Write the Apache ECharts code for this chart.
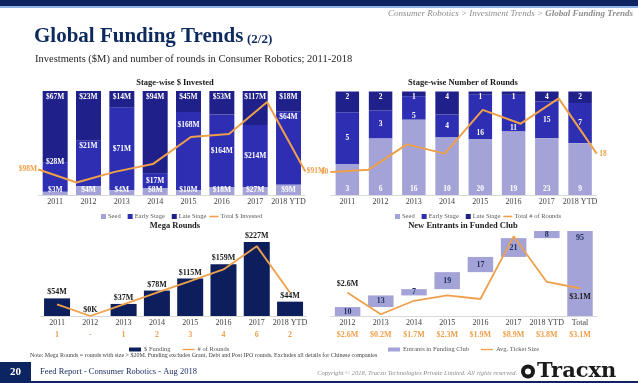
<!DOCTYPE html>
<html><head><meta charset="utf-8">
<script src="https://cdn.jsdelivr.net/npm/echarts@6/dist/echarts.min.js"></script>
<style>html,body{margin:0;padding:0;background:#fff}#c{width:638px;height:383px}</style>
</head><body><div id="c"></div>
<script>
// ---------- data ----------
const years = ['2011','2012','2013','2014','2015','2016','2017','2018 YTD'];
const investSeed  = [3, 4, 4, 8, 10, 18, 27, 9];
const investEarly = [28, 21, 71, 17, 168, 164, 214, 64];
const investLate  = [67, 23, 14, 94, 45, 53, 117, 18];
const investTotal = [98, 48, 89, 119, 223, 235, 358, 91];
const roundsSeed  = [3, 6, 16, 10, 20, 19, 23, 9];
const roundsEarly = [5, 3, 5, 4, 16, 11, 15, 7];
const roundsLate  = [2, 2, 1, 4, 1, 1, 4, 2];
const roundsTotal = [10, 11, 22, 18, 37, 31, 42, 18];
const megaFunding = [54, 0, 37, 78, 115, 159, 227, 44];
const megaRounds  = [1, 0, 1, 2, 3, 4, 6, 2];
const clubCats     = ['2012','2013','2014','2015','2016','2017','2018 YTD','Total'];
const clubEntrants = [10, 13, 7, 19, 17, 21, 8, 95];
const avgTicket    = [2.6, 0.2, 1.7, 2.3, 1.9, 8.9, 3.8, 3.1];

// ---------- styles ----------
const F = 'Liberation Serif';
const C = {seed:'#a3a3d8', early:'#2e2eb3', late:'#20208a', mega:'#0c1f5c', orange:'#eea04a',
           navy:'#0c2461', axis:'#d9d9d9', txt:'#404040', lbl:'#1f2d5c'};
const SQ = 'path://M0,0h0.01v0.01h-0.01z M4,0h5v5h-5z';
const LN = 'path://M0,0h9v1.6h-9z';
const WR = 'path://M0,0h12v4h-12z';
const LW = 'path://M0,0h12v1.4h-12z';

const share = (arr, a, b, c) => arr.map((v, i) => v / (a[i] + b[i] + c[i]) * 100);
const seed1 = share(investSeed, investSeed, investEarly, investLate);
const early1 = share(investEarly, investSeed, investEarly, investLate);
const late1 = share(investLate, investSeed, investEarly, investLate);
const seed2 = share(roundsSeed, roundsSeed, roundsEarly, roundsLate);
const early2 = share(roundsEarly, roundsSeed, roundsEarly, roundsLate);
const late2 = share(roundsLate, roundsSeed, roundsEarly, roundsLate);
const clubBase = clubEntrants.map((v, i) => i === clubEntrants.length - 1 ? 0 :
  clubEntrants.slice(0, i).reduce((s, x) => s + x, 0));

const early1Pos = ['insideTop','insideTop','inside','inside','insideTop','inside','inside','insideTop'];
const early1Dist = [-4, 1, 5, 5, 9, 5, 5, 1];
const early2Pos = ['inside','inside','insideBottom','inside','insideBottom','insideBottom','inside','inside'];
const early2Dist = [5, 5, 0, 5, 2, 0, 5, 5];

const barLbl = (extra) => Object.assign({show:true, color:'#fff', fontFamily:F, fontSize:7.5, fontWeight:'bold'}, extra);

function catAxis(grid, data, extra) {
  return Object.assign({type:'category', gridIndex:grid, data:data,
    axisTick:{show:false}, axisLine:{lineStyle:{color:C.axis}},
    axisLabel:{fontFamily:F, fontSize:8, color:C.txt, margin:3, interval:0}}, extra || {});
}
function valAxis(grid, max) {
  return {type:'value', gridIndex:grid, min:0, max:max, show:false, splitLine:{show:false}};
}
function lineLabels(arr, fmt, firstPos, lastPos, color, dist, size) {
  return arr.map((v, i) => {
    const edge = i === 0 || i === arr.length - 1;
    return {value:v, label:{show:edge, position: i === 0 ? firstPos : lastPos, distance:dist,
      formatter: fmt(v), color:color, fontFamily:F, fontSize:size || 8, fontWeight:'bold'}};
  });
}
const legendBase = {itemWidth:9, itemHeight:5, itemGap:3, symbolKeepAspect:true,
  itemStyle:{borderWidth:0}, textStyle:{fontFamily:F, fontSize:6.5, color:'#595959', padding:[0,0,0,-3]}};

const option = {
  animation:false,
  textStyle:{fontFamily:F},
  grid:[
    {left:38.5, top:91, width:266.7, height:104},
    {left:330.7, top:91.5, width:266, height:103.5},
    {left:40.4, top:234.5, width:266.3, height:81.5},
    {left:331, top:226.5, width:265.6, height:89.5}
  ],
  xAxis:[
    catAxis(0, years),
    catAxis(0, years, {boundaryGap:false, show:false}),
    catAxis(1, years),
    catAxis(1, years, {boundaryGap:false, show:false}),
    catAxis(2, years, {axisLabel:{fontFamily:F, fontSize:8, color:C.txt, margin:1, interval:0, lineHeight:12,
      formatter:(v, i) => v + '\n{o|' + (megaRounds[i] === 0 ? '-' : megaRounds[i]) + '}',
      rich:{o:{color:C.orange, fontWeight:'bold', fontFamily:F, fontSize:8, lineHeight:12}}}}),
    catAxis(3, clubCats, {axisLabel:{fontFamily:F, fontSize:8, color:C.txt, margin:1, interval:0, lineHeight:12,
      formatter:(v, i) => v + '\n{o|$' + avgTicket[i].toFixed(1) + 'M}',
      rich:{o:{color:C.orange, fontWeight:'bold', fontFamily:F, fontSize:8, lineHeight:12}}}})
  ],
  yAxis:[
    valAxis(0, 100), valAxis(0, 400),
    valAxis(1, 100), valAxis(1, 45),
    valAxis(2, 250), valAxis(2, 7),
    valAxis(3, 100), valAxis(3, 10)
  ],
  legend:[
    Object.assign({}, legendBase, {left:92, top:208,
      data:[{name:'Seed', icon:SQ},{name:'Early Stage', icon:SQ},{name:'Late Stage', icon:SQ},{name:'Total $ Invested', icon:LN}]}),
    Object.assign({}, legendBase, {left:386, top:208,
      data:[{name:'Seed', icon:SQ},{name:'Early Stage', icon:SQ},{name:'Late Stage', icon:SQ},{name:'Total # of Rounds', icon:LN}]}),
    Object.assign({}, legendBase, {left:124, top:341, itemWidth:12, itemHeight:4, itemGap:12,
      textStyle:{fontFamily:F, fontSize:6.5, color:'#595959', padding:[0,0,0,-2]},
      data:[{name:'$ Funding', icon:WR},{name:'# of Rounds', icon:LW}]}),
    Object.assign({}, legendBase, {left:383, top:341, itemWidth:12, itemHeight:4, itemGap:12,
      textStyle:{fontFamily:F, fontSize:6.5, color:'#595959', padding:[0,0,0,-2]},
      data:[{name:'Entrants in Funding Club', icon:WR},{name:'Avg. Ticket Size', icon:LW}]})
  ],
  series:[
    // chart 1
    {name:'Seed', type:'bar', xAxisIndex:0, yAxisIndex:0, stack:'inv', barWidth:25, z:3,
     itemStyle:{color:C.seed}, data:seed1,
     label:barLbl({position:'insideBottom', distance:1, formatter:p => '$' + investSeed[p.dataIndex] + 'M'})},
    {name:'Early Stage', type:'bar', xAxisIndex:0, yAxisIndex:0, stack:'inv', barWidth:25,
     itemStyle:{color:C.early},
     data:early1.map((v, i) => ({value:v, label:{position:early1Pos[i], distance:early1Dist[i]}})),
     label:barLbl({formatter:p => '$' + investEarly[p.dataIndex] + 'M'})},
    {name:'Late Stage', type:'bar', xAxisIndex:0, yAxisIndex:0, stack:'inv', barWidth:25,
     itemStyle:{color:C.late}, data:late1,
     label:barLbl({position:'insideTop', distance:2, formatter:p => '$' + investLate[p.dataIndex] + 'M'})},
    {name:'Total $ Invested', type:'line', xAxisIndex:1, yAxisIndex:1, z:5,
     symbol:'circle', symbolSize:1, showSymbol:true,
     itemStyle:{color:C.orange}, lineStyle:{color:C.orange, width:2},
     data:lineLabels(investTotal, v => '$' + v + 'M', 'left', 'right', C.orange, 1, 7.5)},
    // chart 2
    {name:'Seed', type:'bar', xAxisIndex:2, yAxisIndex:2, stack:'rnd', barWidth:23.5, z:3,
     itemStyle:{color:C.seed}, data:seed2,
     label:barLbl({position:'insideBottom', distance:2, formatter:p => '' + roundsSeed[p.dataIndex]})},
    {name:'Early Stage', type:'bar', xAxisIndex:2, yAxisIndex:2, stack:'rnd', barWidth:23.5,
     itemStyle:{color:C.early},
     data:early2.map((v, i) => ({value:v, label:{position:early2Pos[i], distance:early2Dist[i]}})),
     label:barLbl({formatter:p => '' + roundsEarly[p.dataIndex]})},
    {name:'Late Stage', type:'bar', xAxisIndex:2, yAxisIndex:2, stack:'rnd', barWidth:23.5,
     itemStyle:{color:C.late}, data:late2,
     label:barLbl({position:'insideTop', distance:2, formatter:p => '' + roundsLate[p.dataIndex]})},
    {name:'Total # of Rounds', type:'line', xAxisIndex:3, yAxisIndex:3, z:5,
     symbol:'circle', symbolSize:1, showSymbol:true,
     itemStyle:{color:C.orange}, lineStyle:{color:C.orange, width:2},
     data:lineLabels(roundsTotal, v => '' + v, 'left', 'right', C.orange, 2, 7.5)},
    // chart 3
    {name:'$ Funding', type:'bar', xAxisIndex:4, yAxisIndex:4, barWidth:26,
     itemStyle:{color:C.mega}, data:megaFunding,
     label:{show:true, position:'top', distance:2, color:'#1a1a1a', fontFamily:F, fontSize:8, fontWeight:'bold',
       formatter:p => p.value === 0 ? '$0K' : '$' + p.value + 'M'}},
    {name:'# of Rounds', type:'line', xAxisIndex:4, yAxisIndex:5, z:5,
     symbol:'none', itemStyle:{color:C.orange}, lineStyle:{color:C.orange, width:1.8},
     data:megaRounds},
    // chart 4
    {name:'base', type:'bar', xAxisIndex:5, yAxisIndex:6, stack:'club', barWidth:25.5, silent:true,
     itemStyle:{color:'rgba(0,0,0,0)'}, data:clubBase},
    {name:'Entrants in Funding Club', type:'bar', xAxisIndex:5, yAxisIndex:6, stack:'club', barWidth:25.5,
     itemStyle:{color:C.seed},
     data:clubEntrants.map((v, i) => i === clubEntrants.length - 1 ?
       {value:v, label:{position:'insideTop', distance:3}} : v),
     label:{show:true, position:'inside', color:C.lbl, fontFamily:F, fontSize:8, fontWeight:'bold'}},
    {name:'Avg. Ticket Size', type:'line', xAxisIndex:5, yAxisIndex:7, z:5,
     symbol:'circle', symbolSize:1, showSymbol:true,
     itemStyle:{color:C.orange}, lineStyle:{color:C.orange, width:1.8},
     data:lineLabels(avgTicket, v => '$' + v.toFixed(1) + 'M', 'top', 'bottom', '#1a1a1a', 4)}
  ],
  graphic:[
    {type:'rect', shape:{x:0, y:0, width:638, height:6}, style:{fill:C.navy}},
    {type:'rect', shape:{x:0, y:6, width:638, height:2}, style:{fill:'#8eb4e3'}},
    {type:'text', x:633, y:14, style:{text:'{a|Consumer Robotics > Investment Trends > }{b|Global Funding Trends}',
      align:'right', verticalAlign:'middle',
      rich:{a:{fill:'#8c8c8c', fontFamily:F, fontStyle:'italic', fontSize:9},
            b:{fill:'#8c8c8c', fontFamily:F, fontStyle:'italic', fontWeight:'bold', fontSize:9}}}},
    {type:'text', x:34, y:37, style:{text:'Global Funding Trends', fill:'#0d2a5e', fontFamily:F, fontWeight:'bold',
      fontSize:21, verticalAlign:'middle'}},
    {type:'text', x:247, y:39.5, style:{text:'(2/2)', fill:'#0d2a5e', fontFamily:F, fontWeight:'bold',
      fontSize:13, verticalAlign:'middle'}},
    {type:'text', x:35, y:59, style:{text:'Investments ($M) and number of rounds in Consumer Robotics; 2011-2018',
      fill:'#262626', fontFamily:F, fontSize:10.5, verticalAlign:'middle'}},
    {type:'text', x:175, y:83, style:{text:'Stage-wise $ Invested', fill:'#1a1a1a', fontFamily:F, fontWeight:'bold',
      fontSize:8.5, align:'center', verticalAlign:'middle'}},
    {type:'text', x:463, y:83, style:{text:'Stage-wise Number of Rounds', fill:'#1a1a1a', fontFamily:F, fontWeight:'bold',
      fontSize:8.5, align:'center', verticalAlign:'middle'}},
    {type:'text', x:175, y:226, style:{text:'Mega Rounds', fill:'#1a1a1a', fontFamily:F, fontWeight:'bold',
      fontSize:8.5, align:'center', verticalAlign:'middle'}},
    {type:'text', x:463, y:226, style:{text:'New Entrants in Funded Club', fill:'#1a1a1a', fontFamily:F, fontWeight:'bold',
      fontSize:8.5, align:'center', verticalAlign:'middle'}},
    {type:'text', x:30, y:355, style:{text:'Note: Mega Rounds = rounds with size > $20M. Funding excludes Grant, Debt and Post IPO rounds. Excludes all details for Chinese companies',
      fill:'#404040', fontFamily:F, fontSize:6, verticalAlign:'middle'}},
    {type:'rect', shape:{x:0, y:362, width:31, height:21}, style:{fill:C.navy}},
    {type:'rect', shape:{x:0, y:381, width:638, height:2}, style:{fill:C.navy}},
    {type:'text', x:15.5, y:372, style:{text:'20', fill:'#fff', fontFamily:F, fontWeight:'bold', fontSize:11,
      align:'center', verticalAlign:'middle'}},
    {type:'text', x:40, y:372, style:{text:'Feed Report - Consumer Robotics - Aug 2018', fill:'#1c2f66',
      fontFamily:F, fontSize:8.5, verticalAlign:'middle'}},
    {type:'text', x:517, y:373, style:{text:'Copyright \u00a9 2018, Tracxn Technologies Private Limited. All rights reserved.',
      fill:'#8c8c8c', fontFamily:F, fontStyle:'italic', fontSize:6.5, align:'right', verticalAlign:'middle'}},
    {type:'circle', shape:{cx:528, cy:371.5, r:7}, style:{fill:'#1a1a1a'}},
    {type:'circle', shape:{cx:528, cy:371.5, r:3}, style:{fill:'#fff'}},
    {type:'text', x:537, y:371.5, style:{text:'Tracxn', fill:'#1a1a1a', fontFamily:'DejaVu Serif', fontWeight:'bold',
      fontSize:21, verticalAlign:'middle'}}
  ]
};
const chart = echarts.init(document.getElementById('c'));
chart.setOption(option);
</script>
</body></html>
